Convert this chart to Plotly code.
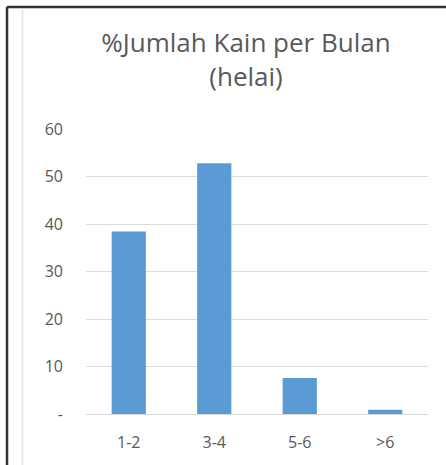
import plotly.graph_objects as go

categories = ["1-2", "3-4", "5-6", ">6"]
values = [38.4, 52.8, 7.6, 0.9]
y_ticks = [0, 10, 20, 30, 40, 50, 60]
y_tick_labels = ["-", "10", "20", "30", "40", "50", "60"]

W, H = 446, 465
L, R, T, B = 86, 18, 129, 51
pw, ph = W - L - R, H - T - B


def px_x(x):
    # pixel -> paper coordinate
    return (x - L) / pw


def px_y(y):
    return (H - B - y) / ph


fig = go.Figure()
fig.add_trace(go.Bar(
    x=categories, y=values,
    marker=dict(color="#5b9bd5", line=dict(color="#5b9bd5", width=0)),
))

# frame lines from the screenshot crop
fig.add_shape(type="line", xref="paper", yref="paper",
              x0=px_x(7), x1=px_x(446), y0=px_y(7), y1=px_y(7),
              line=dict(color="#333333", width=2.5))
fig.add_shape(type="line", xref="paper", yref="paper",
              x0=px_x(7), x1=px_x(7), y0=px_y(7), y1=px_y(465),
              line=dict(color="#333333", width=2.5))
fig.add_shape(type="line", xref="paper", yref="paper",
              x0=px_x(22.5), x1=px_x(22.5), y0=px_y(9), y1=px_y(465),
              line=dict(color="#e4e4e4", width=1.5))

fig.update_layout(
    width=W, height=H,
    margin=dict(l=L, r=R, t=T, b=B),
    paper_bgcolor="white", plot_bgcolor="white",
    font=dict(family="Open Sans, sans-serif", color="#595959"),
    title=dict(text="%Jumlah Kain per Bulan<br>(helai)",
               x=px_x(246), xanchor="center", xref="paper",
               y=1 - 52 / H, yanchor="middle",
               font=dict(size=26, color="#595959")),
    bargap=0.6,
    showlegend=False,
)
fig.update_xaxes(showgrid=False, showline=True, linecolor="#d9d9d9", linewidth=1,
                 tickfont=dict(size=16), ticks="", ticklabelstandoff=14)
fig.update_yaxes(range=[0, 60], tickvals=y_ticks, ticktext=y_tick_labels,
                 showgrid=True, gridcolor="#dcdcdc", gridwidth=1,
                 zeroline=False, showline=False, tickfont=dict(size=16),
                 ticklabelstandoff=22)

fig.write_html("out.html", config={"displayModeBar": False},
               post_script="document.body.style.margin='0';")
